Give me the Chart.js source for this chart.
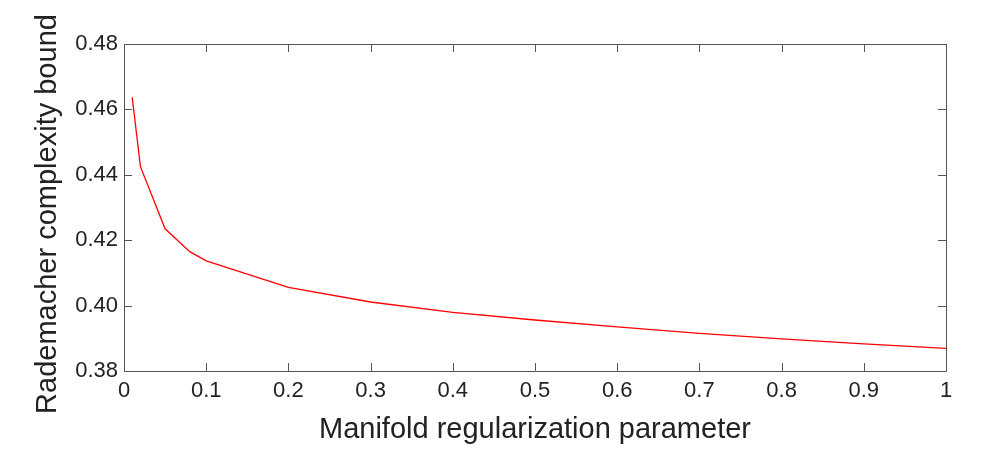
<!DOCTYPE html>
<html>
<head>
<meta charset="utf-8">
<script src="https://cdn.jsdelivr.net/npm/chart.js@4/dist/chart.umd.min.js"></script>
<style>
  html, body { margin: 0; padding: 0; background: #fff; }
  #wrap { width: 998px; height: 459px; position: relative; }
</style>
</head>
<body>
<div id="wrap"><canvas id="c" width="998" height="459"></canvas></div>
<script>
// Data
const xValues = [0.01, 0.02, 0.05, 0.08, 0.1, 0.2, 0.3, 0.4, 0.5, 0.6, 0.7, 0.8, 0.9, 1.0];
const yValues = [0.4637, 0.4425, 0.4235, 0.4165, 0.4137, 0.4056, 0.4011, 0.3979, 0.3956, 0.3935, 0.3915, 0.3898, 0.3883, 0.3869];

const xTickValues = [0, 0.1, 0.2, 0.3, 0.4, 0.5, 0.6, 0.7, 0.8, 0.9, 1];
const xTickLabels = ['0', '0.1', '0.2', '0.3', '0.4', '0.5', '0.6', '0.7', '0.8', '0.9', '1'];
const yTickValues = [0.38, 0.40, 0.42, 0.44, 0.46, 0.48];
const yTickLabels = ['0.38', '0.40', '0.42', '0.44', '0.46', '0.48'];

const xTitle = 'Manifold regularization parameter';
const yTitle = 'Rademacher complexity bound';

const FONT = "'Liberation Sans', Arial, Helvetica, sans-serif";

const boxTicks = {
  id: 'boxTicks',
  afterDraw(chart) {
    const { ctx, chartArea: a, scales } = chart;
    const L = 8;
    ctx.save();
    ctx.strokeStyle = '#555';
    ctx.lineWidth = 1;
    ctx.beginPath();
    ctx.rect(Math.round(a.left) + 0.5, Math.round(a.top) + 0.5,
             Math.round(a.right - a.left), Math.round(a.bottom - a.top));
    scales.x.ticks.forEach(t => {
      const px = Math.round(scales.x.getPixelForValue(t.value)) + 0.5;
      ctx.moveTo(px, a.bottom); ctx.lineTo(px, a.bottom - L);
      ctx.moveTo(px, a.top); ctx.lineTo(px, a.top + L);
    });
    scales.y.ticks.forEach(t => {
      const py = Math.round(scales.y.getPixelForValue(t.value)) + 0.5;
      ctx.moveTo(a.left, py); ctx.lineTo(a.left + L, py);
      ctx.moveTo(a.right, py); ctx.lineTo(a.right - L, py);
    });
    ctx.stroke();
    // y-axis title (rotated), placed like the reference
    ctx.fillStyle = '#222';
    ctx.font = '29px ' + FONT;
    ctx.textAlign = 'center';
    ctx.textBaseline = 'alphabetic';
    ctx.translate(56, 214);
    ctx.rotate(-Math.PI / 2);
    ctx.fillText(yTitle, 0, 0);
    ctx.restore();
  }
};

new Chart(document.getElementById('c'), {
  type: 'line',
  data: {
    datasets: [{
      data: xValues.map((x, i) => ({ x: x, y: yValues[i] })),
      borderColor: '#ff0000',
      borderWidth: 1.3,
      pointRadius: 0,
      tension: 0,
      fill: false
    }]
  },
  options: {
    responsive: false,
    animation: false,
    devicePixelRatio: 1,
    layout: { padding: { top: 44, right: 52, left: 0, bottom: 0 } },
    plugins: { legend: { display: false }, tooltip: { enabled: false } },
    scales: {
      x: {
        type: 'linear',
        min: 0, max: 1,
        afterBuildTicks(s) { s.ticks = xTickValues.map(v => ({ value: v })); },
        afterFit(s) { s.height = 88; },
        grid: { display: false, drawTicks: false },
        border: { display: false },
        ticks: {
          color: '#222',
          font: { family: FONT, size: 22 },
          padding: 7,
          maxRotation: 0,
          autoSkip: false,
          callback: (v, i) => xTickLabels[i]
        },
        title: {
          display: true,
          text: xTitle,
          color: '#222',
          font: { family: FONT, size: 29 },
          padding: { top: 8, bottom: 12 }
        }
      },
      y: {
        type: 'linear',
        min: 0.38, max: 0.48,
        afterBuildTicks(s) { s.ticks = yTickValues.map(v => ({ value: v })); },
        afterFit(s) { s.width = 124; },
        grid: { display: false, drawTicks: false },
        border: { display: false },
        ticks: {
          color: '#222',
          font: { family: FONT, size: 22 },
          padding: 6,
          autoSkip: false,
          callback: (v, i) => yTickLabels[i]
        }
      }
    }
  },
  plugins: [boxTicks]
});
</script>
</body>
</html>
